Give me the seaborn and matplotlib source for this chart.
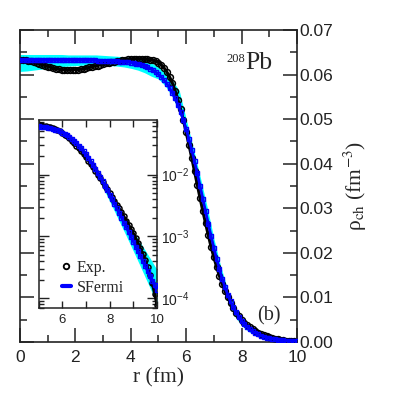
import matplotlib
matplotlib.use('Agg')
import numpy as np
import matplotlib.pyplot as plt
import seaborn as sns
from matplotlib.ticker import MultipleLocator, LogLocator, NullFormatter
from matplotlib.lines import Line2D

# radial grid (fm) of the experimental points and SFermi curve
r = [round(0.1 * i, 1) for i in range(101)]

# experimental charge density (fm^-3)
rho_exp = [0.0633, 0.0633, 0.0632, 0.0631, 0.0630, 0.0628, 0.0626, 0.0624, 0.0622, 0.0620,
           0.0618, 0.0616, 0.0614, 0.0613, 0.0612, 0.0611, 0.0610, 0.0610, 0.0610, 0.0610,
           0.0611, 0.0611, 0.0612, 0.0613, 0.0614, 0.0616, 0.0617, 0.0619, 0.0620, 0.0622,
           0.0623, 0.0625, 0.0626, 0.0628, 0.0629, 0.0630, 0.0631, 0.0632, 0.0633, 0.0634,
           0.0634, 0.0635, 0.0635, 0.0635, 0.0635, 0.0634, 0.0634, 0.0633, 0.0632, 0.0630,
           0.0627, 0.0622, 0.0615, 0.0606, 0.0595, 0.0581, 0.0564, 0.0544, 0.0522, 0.0497,
           0.0470, 0.0442, 0.0413, 0.0383, 0.0353, 0.0323, 0.0294, 0.0266, 0.0239, 0.0213,
           0.0190, 0.0168, 0.0148, 0.0130, 0.0114, 0.0100, 0.0087, 0.0076, 0.0066, 0.0058,
           0.0050, 0.00435, 0.00378, 0.00328, 0.00284, 0.00245, 0.00211, 0.00181, 0.00155, 0.00132,
           0.00112, 0.00094, 0.00078, 0.00064, 0.00052, 0.00041, 0.00032, 0.00024, 0.000175, 0.000120,
           0.000078]

# symmetrized Fermi fit
rho_sf = [0.0632, 0.0632, 0.0632, 0.0632, 0.0632, 0.0632, 0.0632, 0.0632, 0.0632, 0.0632,
          0.0632, 0.0632, 0.0632, 0.0632, 0.0632, 0.0632, 0.0632, 0.0632, 0.0632, 0.0632,
          0.0632, 0.0632, 0.0632, 0.0632, 0.0632, 0.0632, 0.0632, 0.0632, 0.0631, 0.0631,
          0.0631, 0.0631, 0.0631, 0.0630, 0.0630, 0.0630, 0.0629, 0.0629, 0.0628, 0.0628,
          0.0627, 0.06256, 0.06243, 0.06228, 0.06211, 0.06189, 0.06163, 0.06133, 0.06097, 0.06055,
          0.06004, 0.05945, 0.05876, 0.05794, 0.05700, 0.05590, 0.05465, 0.05321, 0.05159, 0.04976,
          0.04774, 0.04551, 0.04311, 0.04054, 0.03784, 0.03503, 0.03217, 0.02930, 0.02648, 0.02372,
          0.02109, 0.01862, 0.01633, 0.01422, 0.01232, 0.01062, 0.00910, 0.00778, 0.00662, 0.00562,
          0.00476, 0.00401, 0.00338, 0.00284, 0.00239, 0.00201, 0.00168, 0.00141, 0.00118, 0.000986,
          0.000824, 0.000688, 0.000575, 0.000479, 0.000400, 0.000334, 0.000279, 0.000233, 0.000194, 0.000162,
          0.000135]

# uncertainty band of the SFermi fits
r_band = [round(0.25 * i, 2) for i in range(41)]
band_lo = [0.0607, 0.0608, 0.0610, 0.0612, 0.0614, 0.0616, 0.0618, 0.0619, 0.0620, 0.0621,
           0.0621, 0.0621, 0.0621, 0.0620, 0.0619, 0.0617, 0.0614, 0.0610, 0.0604, 0.0596,
           0.0590, 0.0574, 0.0550, 0.0515, 0.0462, 0.0402, 0.0335, 0.0268, 0.0196, 0.0140,
           0.0090, 0.0058, 0.0037, 0.00235, 0.00148, 0.00093, 0.00058, 0.00036, 0.00022, 0.000135,
           0.00008]
band_hi = [0.0645, 0.0645, 0.0645, 0.0645, 0.0645, 0.0645, 0.0645, 0.0644, 0.0644, 0.0644,
           0.0644, 0.0644, 0.0643, 0.0642, 0.0641, 0.0640, 0.0638, 0.0636, 0.0632, 0.0626,
           0.0617, 0.0604, 0.0587, 0.0564, 0.0500, 0.0437, 0.0372, 0.0305, 0.0232, 0.0169,
           0.0117, 0.0080, 0.0054, 0.00360, 0.00240, 0.00165, 0.00120, 0.00085, 0.00060, 0.00042,
           0.00029]

sns.set_theme(style='ticks')
plt.rcParams['font.family'] = ['Liberation Sans', 'DejaVu Sans']
plt.rcParams['mathtext.fontset'] = 'stix'
serif = ['Liberation Serif', 'DejaVu Serif']

cyan = '#00ffff'
blue = '#0000ff'


def draw(ax, ms_exp, ms_sf):
    ax.fill_between(r_band, band_lo, band_hi, color=cyan, lw=0, zorder=1)
    sns.lineplot(x=r, y=rho_exp, ax=ax, color='black', lw=2.2, marker='o', markersize=ms_exp,
                 markerfacecolor='none', markeredgecolor='black', markeredgewidth=1.1,
                 estimator=None, sort=False, zorder=2)
    sns.lineplot(x=r, y=rho_sf, ax=ax, color=blue, lw=2.0, marker='s', markersize=ms_sf,
                 markerfacecolor='none', markeredgecolor=blue, markeredgewidth=1.0,
                 estimator=None, sort=False, zorder=3)


fig = plt.figure(figsize=(3.95, 4.05), dpi=100)
ax = fig.add_axes([0.0506, 0.1556, 0.7013, 0.7704])
draw(ax, 4.2, 3.4)
ax.set_xlim(0, 10)
ax.set_ylim(0, 0.07)
ax.xaxis.set_major_locator(MultipleLocator(2))
ax.xaxis.set_minor_locator(MultipleLocator(1))
ax.yaxis.set_major_locator(MultipleLocator(0.01))
ax.yaxis.set_minor_locator(MultipleLocator(0.005))
ax.yaxis.set_major_formatter(matplotlib.ticker.FormatStrFormatter('%.2f'))
ax.tick_params(which='both', direction='in', top=True, bottom=True, left=True, right=True,
               labelleft=False, labelright=True, colors='#222222', width=1.1)
ax.tick_params(which='major', length=10, labelsize=12.5)
ax.tick_params(which='minor', length=5)
ax.tick_params(axis='y', pad=2)
ax.tick_params(axis='x', pad=6)
for s in ax.spines.values():
    s.set_linewidth(1.2)
    s.set_color('#222222')
ax.set_xlabel('r (fm)', family=serif, fontsize=15.5, labelpad=2)
ax.yaxis.set_label_position('right')
ax.set_ylabel('ρ$_{\\rm ch}$ (fm$^{-3}$)', family=serif, fontsize=15.5, labelpad=6)
ax.text(0.745, 0.898, '208', transform=ax.transAxes, family=serif, fontsize=9)
ax.text(0.812, 0.875, 'Pb', transform=ax.transAxes, family=serif, fontsize=18.5)
ax.text(0.855, 0.07, '(b)', transform=ax.transAxes, family=serif, fontsize=14.5)

ins = fig.add_axes([0.0975, 0.2395, 0.300, 0.4642])
ins.set_yscale('log')
draw(ins, 3.6, 3.0)
ins.set_xlim(5, 10)
ins.set_ylim(7.0e-5, 0.076)
ins.xaxis.set_major_locator(MultipleLocator(2))
ins.xaxis.set_minor_locator(MultipleLocator(1))
ins.yaxis.set_major_locator(LogLocator(base=10, numticks=10))
ins.yaxis.set_minor_locator(LogLocator(base=10, subs=np.arange(2, 10), numticks=10))
ins.yaxis.set_minor_formatter(NullFormatter())
ins.tick_params(which='both', direction='in', top=True, bottom=True, left=True, right=True,
                labelleft=False, labelright=True, colors='#222222', width=1.0)
ins.tick_params(which='major', length=7, labelsize=10)
ins.tick_params(which='minor', length=3.5)
ins.tick_params(axis='x', which='both', length=5, labelsize=9.5, pad=4)
ins.tick_params(axis='y', pad=3)
for s in ins.spines.values():
    s.set_linewidth(1.1)
    s.set_color('#222222')
ins.set_xlabel('')
ins.set_ylabel('')

handles = [Line2D([], [], ls='none', marker='o', markersize=4, markerfacecolor='none',
                  markeredgecolor='black', markeredgewidth=1.3),
           Line2D([], [], color=blue, lw=3)]
ins.legend(handles, ['Exp.', 'SFermi'], loc='lower left', bbox_to_anchor=(0.115, 0.015),
           frameon=False, handlelength=0.55, handletextpad=0.4, labelspacing=0.25,
           borderpad=0.1, prop={'family': serif, 'size': 11.5})

fig.savefig('out.png', dpi=100)
